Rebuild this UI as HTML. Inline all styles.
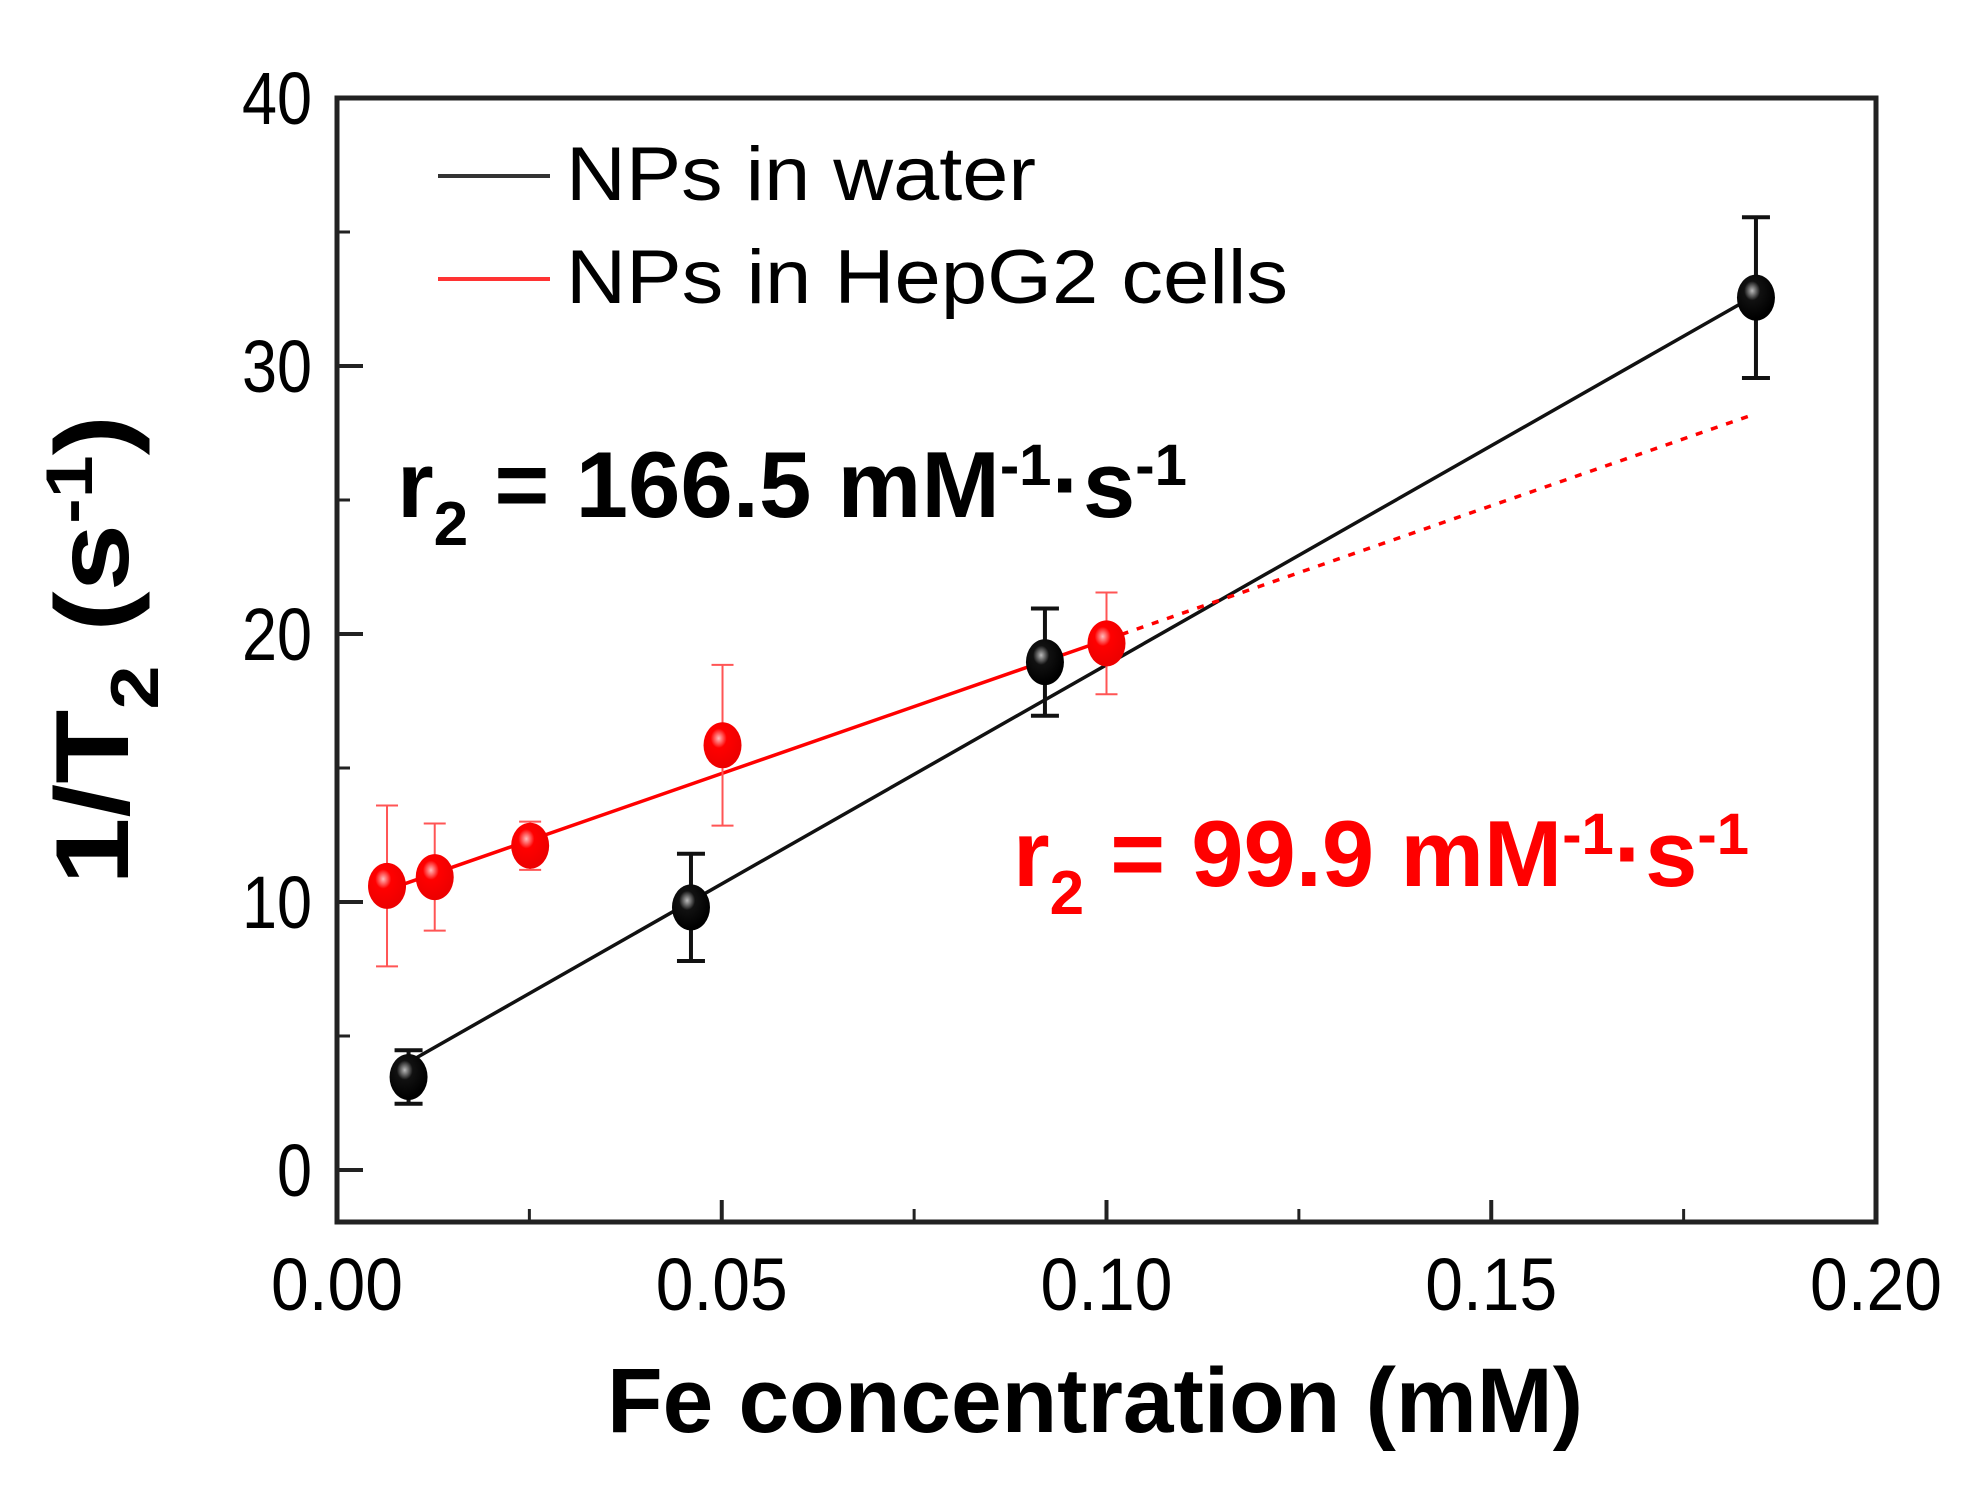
<!DOCTYPE html>
<html><head><meta charset="utf-8"><style>
html,body{margin:0;padding:0;background:#fff;}
svg{display:block;font-family:"Liberation Sans",Arial,sans-serif;}
</style></head><body>
<svg id="chart" width="1970" height="1501" viewBox="0 0 1970 1501" xmlns="http://www.w3.org/2000/svg">
<defs>
<radialGradient id="gBlack" cx="0.4" cy="0.35" r="0.6"><stop offset="0" stop-color="#bbb"/><stop offset="0.35" stop-color="#111"/><stop offset="1" stop-color="#000"/></radialGradient>
<radialGradient id="gRed" cx="0.4" cy="0.35" r="0.6"><stop offset="0" stop-color="#ffbcbc"/><stop offset="0.35" stop-color="#f00"/><stop offset="1" stop-color="#e00"/></radialGradient>
</defs>
<g id="plot"></g>
<g>
<line x1="438" y1="176" x2="550" y2="176" stroke="#333" stroke-width="4"/>
<text x="566" y="200" font-size="76" textLength="470" lengthAdjust="spacingAndGlyphs">NPs in water</text>
<line x1="438" y1="279" x2="550" y2="279" stroke="#f33" stroke-width="4"/>
<text x="566" y="303" font-size="76" textLength="722" lengthAdjust="spacingAndGlyphs">NPs in HepG2 cells</text>
</g>
<text x="397" y="517" font-size="94" font-weight="bold" fill="#000" textLength="790" lengthAdjust="spacingAndGlyphs">r<tspan dy="28" font-size="62">2</tspan><tspan dy="-28"> = 166.5 mM</tspan><tspan dy="-32" font-size="58">-1</tspan><tspan dy="32">·s</tspan><tspan dy="-32" font-size="58">-1</tspan></text>
<text x="1013" y="886" font-size="94" font-weight="bold" fill="#f00" textLength="736" lengthAdjust="spacingAndGlyphs">r<tspan dy="28" font-size="62">2</tspan><tspan dy="-28"> = 99.9 mM</tspan><tspan dy="-32" font-size="58">-1</tspan><tspan dy="32">·s</tspan><tspan dy="-32" font-size="58">-1</tspan></text>
<text x="1095" y="1432" font-size="92" font-weight="bold" text-anchor="middle" textLength="976" lengthAdjust="spacingAndGlyphs">Fe concentration (mM)</text>
<text transform="translate(128,650) rotate(-90)" font-size="104" font-weight="bold" text-anchor="middle" textLength="470" lengthAdjust="spacingAndGlyphs">1/T<tspan dy="30" font-size="68">2</tspan><tspan dy="-30"> (s</tspan><tspan dy="-36" font-size="66">-1</tspan><tspan dy="36">)</tspan></text>
</svg>
<script>
const xTicks = [0, 0.05, 0.10, 0.15, 0.20];
const xTickLabels = ["0.00", "0.05", "0.10", "0.15", "0.20"];
const yTicks = [0, 10, 20, 30, 40];
const yTickLabels = ["0", "10", "20", "30", "40"];
const waterX = [0.0093, 0.046, 0.092, 0.1844];
const waterY = [3.47, 9.8, 18.95, 32.55];
const waterErr = [1.0, 2.0, 2.0, 3.0];
const cellsX = [0.0065, 0.0127, 0.0251, 0.0501, 0.100];
const cellsY = [10.6, 10.93, 12.1, 15.85, 19.65];
const cellsErr = [3.0, 2.0, 0.9, 3.0, 1.9];
const waterFit = [2.5, 163.5];   // intercept, slope
const cellsFit = [9.8, 99.9];
const waterFitRange = [0.0093, 0.1836];
const cellsFitRange = [0.0065, 0.100, 0.1836];

const L=337, R=1876, T=98, B=1222;
const xMin=0, xMax=0.2;
const y0px=1170, yPer=26.8;
function sx(v){return L+(v-xMin)/(xMax-xMin)*(R-L);}
function sy(v){return y0px-v*yPer;}
const NS="http://www.w3.org/2000/svg";
const g=document.getElementById('plot');
function mk(tag,attrs,parent){const e=document.createElementNS(NS,tag);for(const k in attrs)e.setAttribute(k,attrs[k]);(parent||g).appendChild(e);return e;}

const frame=mk('rect',{x:L,y:T,width:R-L,height:B-T,fill:'none',stroke:'#222','stroke-width':5});


xTicks.forEach((v,i)=>{
  const t=mk('line',{x1:sx(v),x2:sx(v),y1:B,y2:B-22,stroke:'#222','stroke-width':4});
  
  
  const lb=mk('text',{x:sx(v),y:1310,'font-size':74,'text-anchor':'middle',textLength:xTickLabels[i].length*33,lengthAdjust:'spacingAndGlyphs'});
  lb.textContent=xTickLabels[i];
  
  
  if(i<xTicks.length-1){
    const m=mk('line',{x1:sx(v+0.025),x2:sx(v+0.025),y1:B,y2:B-13,stroke:'#222','stroke-width':3});
    
    
  }
});
yTicks.forEach((v,i)=>{
  const t=mk('line',{x1:L,x2:L+26,y1:sy(v),y2:sy(v),stroke:'#222','stroke-width':4});
  
  
  const lb=mk('text',{x:312,y:sy(v)+26,'font-size':74,'text-anchor':'end',textLength:yTickLabels[i].length*35,lengthAdjust:'spacingAndGlyphs'});
  lb.textContent=yTickLabels[i];
  
  
  if(i<yTicks.length-1){
    const m=mk('line',{x1:L,x2:L+13,y1:sy(v+5),y2:sy(v+5),stroke:'#222','stroke-width':3});
    
    
  }
});
const wf=mk('line',{x1:sx(waterFitRange[0]),y1:sy(waterFit[0]+waterFit[1]*waterFitRange[0]),x2:sx(waterFitRange[1]),y2:sy(waterFit[0]+waterFit[1]*waterFitRange[1]),stroke:'#111','stroke-width':3.5});


const cf=mk('line',{x1:sx(cellsFitRange[0]),y1:sy(cellsFit[0]+cellsFit[1]*cellsFitRange[0]),x2:sx(cellsFitRange[1]),y2:sy(cellsFit[0]+cellsFit[1]*cellsFitRange[1]),stroke:'#f00','stroke-width':3.5});


const cd=mk('line',{x1:sx(cellsFitRange[1]),y1:sy(cellsFit[0]+cellsFit[1]*cellsFitRange[1]),x2:sx(cellsFitRange[2]),y2:sy(cellsFit[0]+cellsFit[1]*cellsFitRange[2]),stroke:'#f00','stroke-width':3.5,'stroke-dasharray':'7 9'});



function series(xs,ys,es,col,fill,capW,sw,name){
  xs.forEach((xv,i)=>{
    const cx=sx(xv),cy=sy(ys[i]),top=sy(ys[i]+es[i]),bot=sy(ys[i]-es[i]);
    const eb=mk('path',{d:`M${cx},${top}V${bot}M${cx-capW},${top}H${cx+capW}M${cx-capW},${bot}H${cx+capW}`,stroke:col,'stroke-width':sw,fill:'none'});
    
    
    const p=mk('ellipse',{cx:cx,cy:cy,rx:19,ry:23,fill:fill});
    
    
  });
}
series(cellsX,cellsY,cellsErr,'#f55','url(#gRed)',11,2,'hepg2');
series(waterX,waterY,waterErr,'#111','url(#gBlack)',14,4,'water');
</script>
</body></html>
